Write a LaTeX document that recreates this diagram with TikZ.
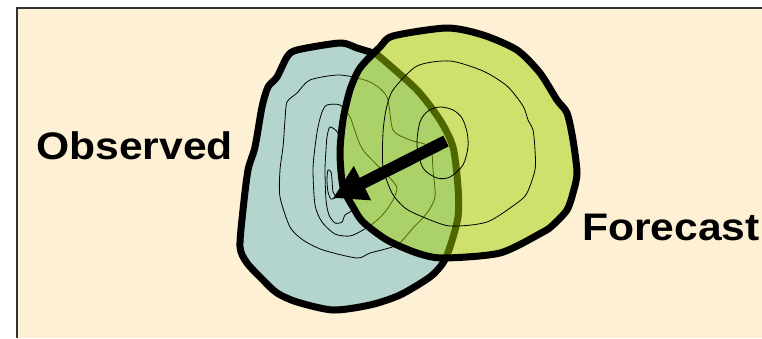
\documentclass[tikz,border=0pt]{standalone}
\usepackage{fontspec}
\setmainfont{Liberation Sans}
\usetikzlibrary{arrows.meta}
\definecolor{bgbeige}{RGB}{253,240,213}
\definecolor{obsfill}{RGB}{179,213,205}
\definecolor{fcgreen}{RGB}{161,208,0}
\definecolor{framegray}{RGB}{50,50,50}
\tikzset{
  outline/.style={line width=7pt, line join=round, draw=black},
  contour/.style={line width=0.8pt, draw=black},
  label/.style={font=\bfseries\fontsize{38.4}{40}\selectfont, inner sep=0pt, xscale=1.11},
}
\begin{document}
\begin{tikzpicture}[x=1pt,y=-1pt]
\useasboundingbox (0,0) rectangle (762,338);
\fill[white] (0,0) rectangle (762,338);
\fill[bgbeige] (17,8) rectangle (762,338);
\draw[framegray, line width=2pt] (17,338) -- (17,8) -- (762,8);

% Observed object
\path[fill=obsfill, outline] plot[smooth cycle, tension=0.45] coordinates {
 (340,43) (357,48) (373,53) (380,57) (417,90) (440,120) (453,147) (458,187) (458,217) (450,247) (443,263)
 (430,277) (400,295) (370,305) (333,310) (297,302) (277,293) (263,280) (247,263) (240,247) (243,210)
 (248,170) (255,147) (262,107) (268,87) (277,77) (287,57) (297,50)};
% Observed contours
\draw[contour] plot[smooth cycle, tension=0.45] coordinates {
 (340,75) (370,82) (387,97) (393,130) (410,140) (430,147) (433,170) (435,197) (427,213) (413,228)
 (397,245) (370,253) (357,258) (323,250) (303,240) (290,227) (280,197) (280,170) (283,147) (285,120)
 (287,102) (297,93) (310,80)};
\draw[contour] plot[smooth cycle, tension=0.45] coordinates {
 (327,105) (340,105) (350,117) (357,137) (363,150) (377,165) (390,178) (397,188) (393,200) (385,212)
 (375,222) (363,230) (350,236) (335,234) (322,222) (315,205) (313,170) (315,147) (318,127) (322,112)};
\draw[contour] plot[smooth cycle, tension=0.45] coordinates {
 (330,127) (338,133) (342,150) (343,180) (348,200) (352,210) (345,215) (342,222) (335,223) (329,215)
 (326,200) (325,170) (326,150) (327,137)};
\draw[contour] plot[smooth cycle, tension=0.45] coordinates {
 (328,170) (331,172) (332,180) (333,192) (336,197) (331,199) (328,192) (327,180)};

% Forecast object
\fill[fcgreen, fill opacity=0.49] plot[smooth cycle, tension=0.45] coordinates {
 (447,28) (483,35) (517,50) (540,73) (557,100) (567,113) (573,140) (577,173) (573,193) (567,210)
 (553,225) (543,232) (500,253) (443,258) (417,253) (387,240) (363,222) (353,207) (343,187) (340,153)
 (343,120) (350,90) (360,68) (380,47) (393,36)};
\draw[contour] plot[smooth cycle, tension=0.45] coordinates {
 (417,66) (450,61) (483,71) (507,86) (523,106) (528,120) (533,130) (535,150) (535,170) (527,193)
 (517,203) (487,222) (450,226) (423,217) (405,208) (392,193) (383,167) (383,133) (386,110) (393,90)};
\draw[contour] plot[smooth cycle, tension=0.5] coordinates {
 (440,107) (453,110) (462,118) (467,132) (468,147) (463,165) (450,177) (437,178) (423,168) (417,145)
 (420,122) (428,111)};
\draw[outline] plot[smooth cycle, tension=0.45] coordinates {
 (447,28) (483,35) (517,50) (540,73) (557,100) (567,113) (573,140) (577,173) (573,193) (567,210)
 (553,225) (543,232) (500,253) (443,258) (417,253) (387,240) (363,222) (353,207) (343,187) (340,153)
 (343,120) (350,90) (360,68) (380,47) (393,36)};

% Displacement arrow
\coordinate (fc) at (446,141);
\coordinate (ob) at (333,198);
\draw[line width=12pt, -{Triangle[length=33pt,width=36pt]}] (fc) -- (ob);

% Labels
\node[label, anchor=base west] (obs) at (36,159) {Observed};
\node[label, anchor=base west] (fcst) at (582,240) {Forecast};
\end{tikzpicture}
\end{document}
